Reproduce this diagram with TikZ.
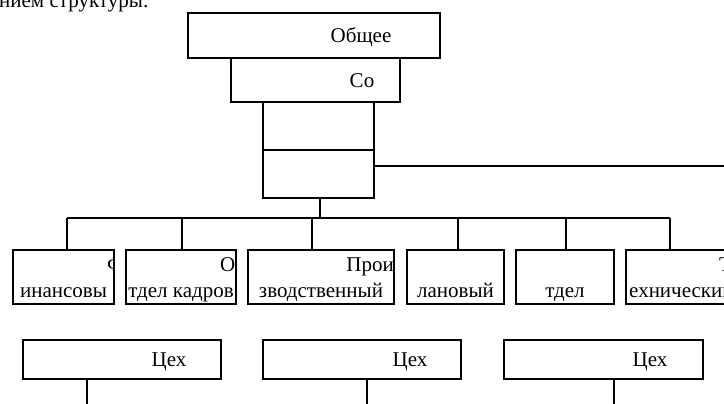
\documentclass[tikz,border=0pt]{standalone}
\usepackage{fontspec}
\setmainfont{Liberation Serif}
\begin{document}
\begin{tikzpicture}[x=1pt,y=-1pt,
  box/.style={draw, rectangle, inner sep=0pt, line width=1.3pt},
  conn/.style={draw, line width=1.3pt},
  lbl/.style={inner sep=0pt, anchor=base, font=\fontsize{21}{24}\selectfont}]
\clip (0,0) rectangle (724,404);
% title (cut off at the top)
\node[lbl, anchor=base west] (title) at (-1,8) {нием структуры:};
% top boxes
\node[box, minimum width=252pt, minimum height=45pt] (gen) at (314,35.5) {};
\node[lbl] (genT) at (361,43) {Общее};
\node[box, minimum width=169pt, minimum height=44pt] (co) at (315.5,80) {};
\node[lbl] (coT) at (362,88) {Со};
\node[box, minimum width=111pt, minimum height=48pt] (bA) at (318.5,126) {};
\node[box, minimum width=111pt, minimum height=48pt] (bB) at (318.5,174) {};
% department boxes
\node[box, minimum width=101pt, minimum height=54pt] (c1) at (63.5,277) {};
\node[box, minimum width=110pt, minimum height=54pt] (c2) at (181,277) {};
\node[box, minimum width=146pt, minimum height=54pt] (c3) at (321,277) {};
\node[box, minimum width=97pt, minimum height=54pt] (c4) at (455.5,277) {};
\node[box, minimum width=98pt, minimum height=54pt] (c5) at (565,277) {};
\node[box, minimum width=114pt, minimum height=54pt] (c6) at (683,277) {};
\begin{scope}
  \clip (c1.south west) rectangle (c1.north east);
  \node[lbl, anchor=base west] (c1a) at (107,271) {Ф};
  \node[lbl] (c1b) at (63.5,297) {инансовы};
\end{scope}
\begin{scope}
  \clip (c2.south west) rectangle (c2.north east);
  \node[lbl, anchor=base east] (c2a) at (235.5,271) {О};
  \node[lbl] (c2b) at (181,297) {тдел кадров};
\end{scope}
\begin{scope}
  \clip (c3.south west) rectangle (c3.north east);
  \node[lbl, anchor=base east] (c3a) at (394,271) {Прои};
  \node[lbl] (c3b) at (321,297) {зводственный};
\end{scope}
\node[lbl] (c4b) at (455.5,297) {лановый};
\node[lbl] (c5b) at (565,297) {тдел};
\begin{scope}
  \clip (c6.south west) rectangle (c6.north east);
  \node[lbl, anchor=base west] (c6a) at (719,271) {Т};
  \node[lbl, anchor=base west] (c6b) at (629,297) {ехнический};
\end{scope}
% workshop boxes
\node[box, minimum width=198pt, minimum height=39pt] (w1) at (122,359.5) {};
\node[box, minimum width=198pt, minimum height=39pt] (w2) at (362,359.5) {};
\node[box, minimum width=199pt, minimum height=39pt] (w3) at (603.5,359.5) {};
\node[lbl] (w1T) at (169,366) {Цех};
\node[lbl] (w2T) at (410,366) {Цех};
\node[lbl] (w3T) at (650,366) {Цех};
% connectors
\coordinate (rEnd) at (726,166);
\path[conn] (rEnd -| bB.east) -- (rEnd);
\coordinate (top) at (320,218);
\path[conn] (top |- bB.south) -- (top);
\coordinate (j1) at (67,218);
\coordinate (j2) at (182,218);
\coordinate (j3) at (312,218);
\coordinate (j4) at (458,218);
\coordinate (j5) at (566,218);
\coordinate (j6) at (670,218);
\path[conn] (j1) -- (j6);
\foreach \j/\c in {j1/c1,j2/c2,j3/c3,j4/c4,j5/c5,j6/c6}
  \path[conn] (\j) -- (\j |- \c.north);
\coordinate (d1) at (87,406);
\coordinate (d2) at (367,406);
\coordinate (d3) at (614,406);
\path[conn] (d1 |- w1.south) -- (d1);
\path[conn] (d2 |- w2.south) -- (d2);
\path[conn] (d3 |- w3.south) -- (d3);
\end{tikzpicture}
\end{document}
